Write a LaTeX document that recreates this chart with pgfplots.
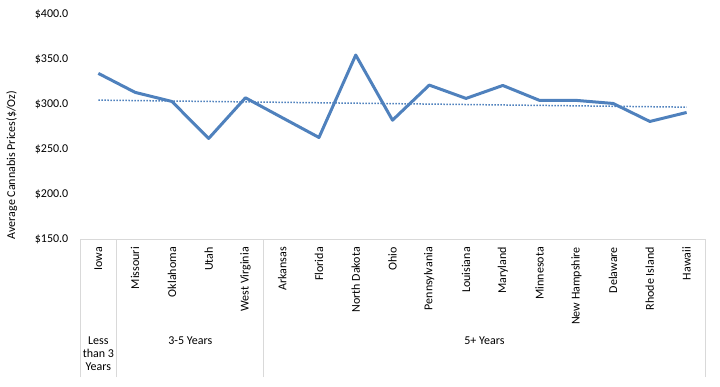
\documentclass[border=0pt]{standalone}
\usepackage{pgfplots}
\pgfplotsset{compat=1.18}
\usepackage{fontspec}
\setmainfont{Carlito}
\definecolor{exblue}{RGB}{79,129,189}
\definecolor{sepgray}{RGB}{217,217,217}
\begin{document}
\fontsize{12bp}{14.4bp}\selectfont
\begin{tikzpicture}[x=1bp,y=1bp]
\useasboundingbox (0,0) rectangle (720,386);
\begin{axis}[
  at={(80bp,147bp)}, anchor=south west,
  scale only axis, width=625bp, height=225bp,
  xmin=-0.5, xmax=16.5, ymin=150, ymax=400,
  ytick={150,200,250,300,350,400},
  yticklabels={\$150.0,\$200.0,\$250.0,\$300.0,\$350.0,\$400.0},
  xtick={0,...,16},
  xticklabels={Iowa,Missouri,Oklahoma,Utah,West Virginia,Arkansas,Florida,North Dakota,Ohio,Pennsylvania,Louisiana,Maryland,Minnesota,New Hampshire,Delaware,Rhode Island,Hawaii},
  xticklabel style={rotate=90, anchor=east, font=\fontsize{12bp}{14.4bp}\selectfont},
  yticklabel style={font=\fontsize{12bp}{14.4bp}\selectfont},
  xticklabel shift=4bp,
  yticklabel shift=7.5bp,
  axis lines*=left,
  x axis line style={draw=sepgray, line width=0.75bp},
  y axis line style={draw=none},
  tick style={draw=none},
  clip=false,
  /pgf/number format/assume math mode=true,
]
\addplot[exblue, line width=1.5bp, dash pattern=on 1.5bp off 1.5bp] coordinates {(0,304.3) (16,296.5)};
\addplot[exblue, line width=3bp, line join=round, mark=none] coordinates {
  (0,334.0) (1,312.9) (2,302.8) (3,261.7) (4,306.9) (5,284.8) (6,262.8)
  (7,354.4) (8,282.0) (9,321.0) (10,306.2) (11,320.6) (12,304.0)
  (13,304.0) (14,300.6) (15,280.6) (16,290.6)};
\end{axis}
\draw[sepgray, line width=0.75bp] (80,9) -- (80,147)
  (116.75,9) -- (116.75,147)
  (263.75,9) -- (263.75,147)
  (705,9) -- (705,147);
\node[align=center, font=\fontsize{12bp}{12.7bp}\selectfont, inner sep=0] at (98.4,32.5) {Less\\than 3\\Years};
\node[inner sep=0] at (190.25,45) {3-5 Years};
\node[inner sep=0] at (484.4,45) {5+ Years};
\node[rotate=90, inner sep=0] at (11.7,221) {Average Cannabis Prices(\$/Oz)};
\end{tikzpicture}
\end{document}
